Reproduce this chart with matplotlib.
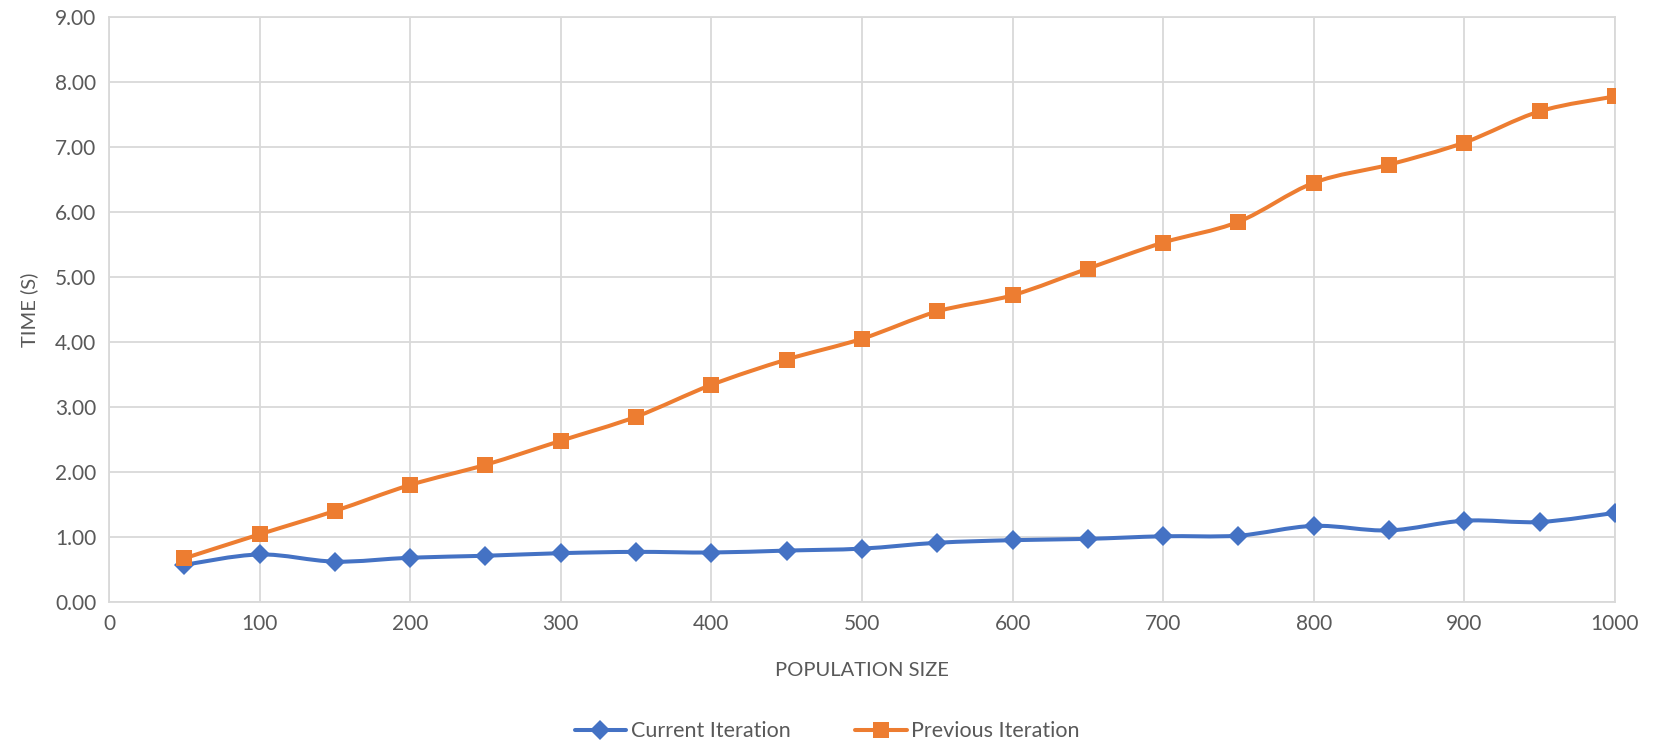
import numpy as np
import matplotlib.pyplot as plt
from matplotlib.path import Path
from matplotlib.patches import PathPatch
from matplotlib.lines import Line2D
from matplotlib.ticker import FormatStrFormatter, MultipleLocator

plt.rcParams['font.family'] = ['Lato', 'DejaVu Sans']

# ----------------- DATA -----------------

population = [50, 100, 150, 200, 250, 300, 350, 400, 450, 500,
              550, 600, 650, 700, 750, 800, 850, 900, 950, 1000]
current_iter = [0.57, 0.73, 0.62, 0.68, 0.71, 0.75, 0.77, 0.76, 0.79, 0.82,
                0.91, 0.95, 0.97, 1.01, 1.02, 1.17, 1.10, 1.25, 1.23, 1.37]
previous_iter = [0.67, 1.04, 1.40, 1.80, 2.11, 2.48, 2.85, 3.34, 3.73, 4.05,
                 4.47, 4.72, 5.13, 5.53, 5.85, 6.45, 6.73, 7.07, 7.55, 7.78]

BLUE = "#4472C4"
ORANGE = "#ED7D31"
TEXT = "#595959"
GRID = "#D9D9D9"


def smooth_path(xs, ys):
    # cubic bezier through every point, spreadsheet-style smoothing
    pts = np.column_stack([xs, ys]).astype(float)
    n = len(pts)
    verts = [pts[0]]
    codes = [Path.MOVETO]
    for i in range(n - 1):
        p0 = pts[max(i - 1, 0)]
        p1 = pts[i]
        p2 = pts[i + 1]
        p3 = pts[min(i + 2, n - 1)]
        c1 = p1 + (p2 - p0) / 6.0
        c2 = p2 - (p3 - p1) / 6.0
        verts += [c1, c2, p2]
        codes += [Path.CURVE4] * 3
    return Path(verts, codes)


fig = plt.figure(figsize=(16.54, 7.44), dpi=100)
ax = fig.add_axes([0.0659, 0.191, 0.9105, 0.786])

series = [
    ("Current Iteration", current_iter, BLUE, "D", 10),
    ("Previous Iteration", previous_iter, ORANGE, "s", 11),
]
handles = []
for label, values, color, marker, msize in series:
    ax.add_patch(PathPatch(smooth_path(population, values), facecolor="none",
                           edgecolor=color, lw=2.9, capstyle="round",
                           joinstyle="round", zorder=3))
    ax.plot(population, values, linestyle="none", marker=marker,
            markersize=msize, color=color, markeredgewidth=0, zorder=4)
    handles.append(Line2D([], [], color=color, lw=2.9, marker=marker,
                          markersize=msize, markeredgewidth=0,
                          solid_capstyle="round", label=label))

ax.set_xlim(0, 1000)
ax.set_ylim(0, 9)
ax.xaxis.set_major_locator(MultipleLocator(100))
ax.yaxis.set_major_locator(MultipleLocator(1))
ax.yaxis.set_major_formatter(FormatStrFormatter("%.2f"))
ax.grid(True, color=GRID, lw=1.3, zorder=0)
ax.set_axisbelow(True)
for s in ax.spines.values():
    s.set_color(GRID)
    s.set_linewidth(1.3)
ax.tick_params(length=0, labelsize=15, labelcolor=TEXT, pad=9)

ax.set_xlabel("POPULATION SIZE", fontsize=14.5, color=TEXT, labelpad=20)
ax.set_ylabel("TIME (S)", fontsize=14.5, color=TEXT, labelpad=12)

fig.legend(handles=handles, loc="center", bbox_to_anchor=(0.5, 0.017),
           ncol=2, frameon=False, fontsize=15.5, labelcolor=TEXT,
           handlelength=2.4, handletextpad=0.2, columnspacing=3.0)

fig.savefig("out.png", dpi=100)
